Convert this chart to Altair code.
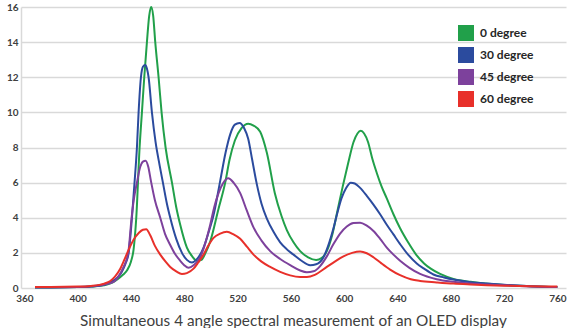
import altair as alt
import pandas as pd

series_names = ["0 degree", "30 degree", "45 degree", "60 degree"]
series_colors = ["#21a04a", "#2b4b9e", "#7d419c", "#e8302a"]

wl_0 = [368, 380, 400, 410, 420, 426, 430, 434, 437, 440, 442, 444, 446.5, 448.25, 450, 452, 453.7, 455.2, 456.7, 458.25, 460.75, 463, 466, 470.8, 474, 477, 482, 486, 489.5, 493, 496, 499.5, 505.7, 510.75, 514, 518, 523, 528, 532, 537, 542, 548, 553, 557, 562, 567, 573, 579, 583, 587, 591, 595, 599, 603, 607, 610, 612.5, 615, 618, 621, 624.5, 628, 632, 637, 642, 648, 654, 660, 665, 672, 682, 695, 708, 720, 740, 760]
val_0 = [0.03, 0.03, 0.05, 0.08, 0.15, 0.3, 0.5, 0.75, 1.0, 1.5, 2.2, 4.0, 8.0, 10.0, 12.0, 14.0, 15.5, 16.0, 15.5, 14.0, 12.0, 10.0, 8.0, 6.0, 4.6, 3.6, 2.3, 1.8, 1.55, 1.6, 2.0, 2.65, 4.5, 6.0, 7.3, 8.4, 9.1, 9.35, 9.25, 8.9, 7.7, 5.4, 4.1, 3.3, 2.6, 2.1, 1.75, 1.6, 1.7, 2.1, 3.0, 4.4, 5.8, 7.1, 8.3, 8.8, 8.95, 8.8, 8.3, 7.4, 6.55, 5.8, 5.1, 4.2, 3.4, 2.6, 1.9, 1.4, 1.1, 0.8, 0.52, 0.35, 0.24, 0.17, 0.1, 0.05]

wl_30 = [368, 380, 400, 410, 420, 425, 430, 433, 436, 438.3, 440.75, 442.7, 444.5, 445.75, 447.5, 449, 450.75, 452, 453.25, 455.75, 458.5, 461.5, 464, 467, 469.5, 474, 478.3, 482, 485.8, 489, 494.5, 498, 502, 507, 511, 514.5, 518, 521.5, 525, 528, 531, 534.5, 538, 542, 547, 552, 557, 562, 568, 574.5, 579, 584.5, 588, 592, 595, 598, 601.5, 605, 608, 612, 617, 622, 627, 632, 637, 642, 648, 654.5, 660, 667, 675, 682, 695, 707, 720, 740, 760]
val_30 = [0.03, 0.03, 0.05, 0.08, 0.18, 0.35, 0.6, 0.9, 1.4, 2.0, 4.0, 6.0, 8.0, 10.0, 12.0, 12.6, 12.7, 12.5, 12.0, 10.0, 8.3, 7.0, 6.0, 4.8, 4.0, 2.8, 2.0, 1.6, 1.45, 1.6, 2.3, 3.1, 4.15, 6.1, 7.7, 8.75, 9.3, 9.4, 9.1, 8.5, 7.3, 5.9, 4.8, 3.95, 3.2, 2.6, 2.2, 1.9, 1.55, 1.3, 1.35, 1.75, 2.4, 3.4, 4.3, 5.1, 5.7, 6.0, 5.95, 5.7, 5.25, 4.75, 4.2, 3.6, 3.05, 2.5, 1.9, 1.4, 1.1, 0.77, 0.6, 0.48, 0.33, 0.25, 0.18, 0.1, 0.05]

wl_45 = [368, 380, 400, 410, 420, 427, 431, 434.5, 438, 440.5, 442.5, 444.5, 447, 449, 451, 453, 455, 458, 462, 465.5, 469.5, 473, 477, 480, 483.25, 487, 492, 496, 499.5, 502.5, 505.75, 509, 513, 517, 522, 527, 532, 538, 544.5, 552, 559.5, 567, 572, 577, 582, 587, 592, 597, 602, 607, 612, 617, 622, 627, 632, 637, 642, 649, 657, 669.5, 682, 695, 707, 720, 740, 760]
val_45 = [0.04, 0.04, 0.06, 0.1, 0.2, 0.35, 0.7, 1.2, 2.0, 4.0, 5.2, 6.0, 6.9, 7.2, 7.25, 6.9, 6.1, 5.0, 4.0, 3.1, 2.45, 1.95, 1.55, 1.3, 1.15, 1.3, 1.75, 2.6, 3.6, 4.6, 5.4, 5.95, 6.25, 6.0, 5.4, 4.4, 3.45, 2.7, 2.1, 1.65, 1.3, 1.0, 0.9, 0.95, 1.25, 1.8, 2.5, 3.1, 3.5, 3.7, 3.72, 3.55, 3.25, 2.8, 2.3, 1.9, 1.55, 1.15, 0.8, 0.5, 0.35, 0.25, 0.2, 0.15, 0.09, 0.05]

wl_60 = [368, 380, 400, 410, 420, 424.5, 428, 432, 435, 437.8, 442, 446, 449, 451.5, 454.5, 458, 462, 466, 469.5, 474, 478.25, 482, 487, 490.5, 494.5, 498, 502, 507, 512, 517, 522, 527, 532, 538, 544.5, 552, 559.5, 567, 572, 578, 587, 593, 599.5, 606, 612, 617, 622, 628, 634.5, 642, 650, 657, 669.5, 682, 695, 707, 720, 740, 760]
val_60 = [0.06, 0.06, 0.08, 0.12, 0.25, 0.4, 0.65, 1.1, 1.6, 2.1, 2.75, 3.15, 3.32, 3.35, 3.0, 2.4, 1.9, 1.5, 1.2, 0.95, 0.8, 0.85, 1.1, 1.45, 1.9, 2.4, 2.85, 3.1, 3.2, 3.05, 2.8, 2.35, 1.9, 1.5, 1.2, 0.92, 0.72, 0.63, 0.63, 0.75, 1.2, 1.5, 1.8, 2.0, 2.08, 1.98, 1.75, 1.4, 1.05, 0.73, 0.5, 0.4, 0.32, 0.25, 0.2, 0.16, 0.13, 0.1, 0.08]

x_ticks = [360, 400, 440, 480, 520, 560, 600, 640, 680, 720, 760]
y_ticks = [0, 2, 4, 6, 8, 10, 12, 14, 16]
title_text = "Simultaneous 4 angle spectral measurement of an OLED display"

rows = []
for name, wl, vals in zip(series_names, [wl_0, wl_30, wl_45, wl_60], [val_0, val_30, val_45, val_60]):
    for i, (w, v) in enumerate(zip(wl, vals)):
        rows.append({"series": name, "angle": name, "wavelength": w, "value": v, "idx": i})
df = pd.DataFrame(rows)

FONT = "Lato"
LABEL_COLOR = "#404040"
GRID = "#d9d9d9"

x_enc = alt.X("wavelength:Q",
              scale=alt.Scale(domain=[357.5, 766.5], nice=False, zero=False),
              axis=alt.Axis(values=x_ticks, title=None, grid=False, domain=False, ticks=False,
                            labelFont=FONT, labelFontWeight="bold", labelFontSize=10,
                            labelColor=LABEL_COLOR, labelPadding=5, labelOverlap=False))
y_enc = alt.Y("value:Q",
              scale=alt.Scale(domain=[0, 16], nice=False),
              axis=alt.Axis(values=y_ticks, title=None, grid=True, gridColor=GRID, gridWidth=1.5,
                            domain=True, domainColor=GRID, domainWidth=1.5, ticks=False,
                            labelFont=FONT, labelFontWeight="bold", labelFontSize=10,
                            labelColor=LABEL_COLOR, labelPadding=3, labelOverlap=False))

lines = alt.Chart(df).mark_line(strokeWidth=2, interpolate="monotone").encode(
    x=x_enc,
    y=y_enc,
    stroke=alt.Stroke("series:N", scale=alt.Scale(domain=series_names, range=series_colors), legend=None),
    order=alt.Order("idx:Q"),
)

legend_layer = alt.Chart(df).mark_square(filled=True, size=0).encode(
    x=x_enc,
    y=y_enc,
    fill=alt.Fill("angle:N",
                  scale=alt.Scale(domain=series_names, range=series_colors),
                  legend=alt.Legend(title=None, orient="none", legendX=437, legendY=18,
                                    symbolType="square", symbolSize=256, symbolStrokeWidth=0,
                                    symbolOpacity=1,
                                    labelFont=FONT, labelFontWeight="bold", labelFontSize=12,
                                    labelColor="#262626", rowPadding=6, padding=0,
                                    labelOffset=6)),
)

chart = alt.layer(lines, legend_layer).resolve_scale(fill="independent").properties(
    width=545, height=281,
    padding={"left": 21, "top": 7, "right": 4, "bottom": 40},
    autosize=alt.AutoSizeParams(type="none"),
    title=alt.TitleParams(title_text, orient="bottom", anchor="middle", font=FONT, fontSize=15.3,
                          fontWeight="normal", color=LABEL_COLOR, offset=11),
).configure_view(stroke=None)

chart.save("out.html", embed_options={"renderer": "svg", "actions": False})
